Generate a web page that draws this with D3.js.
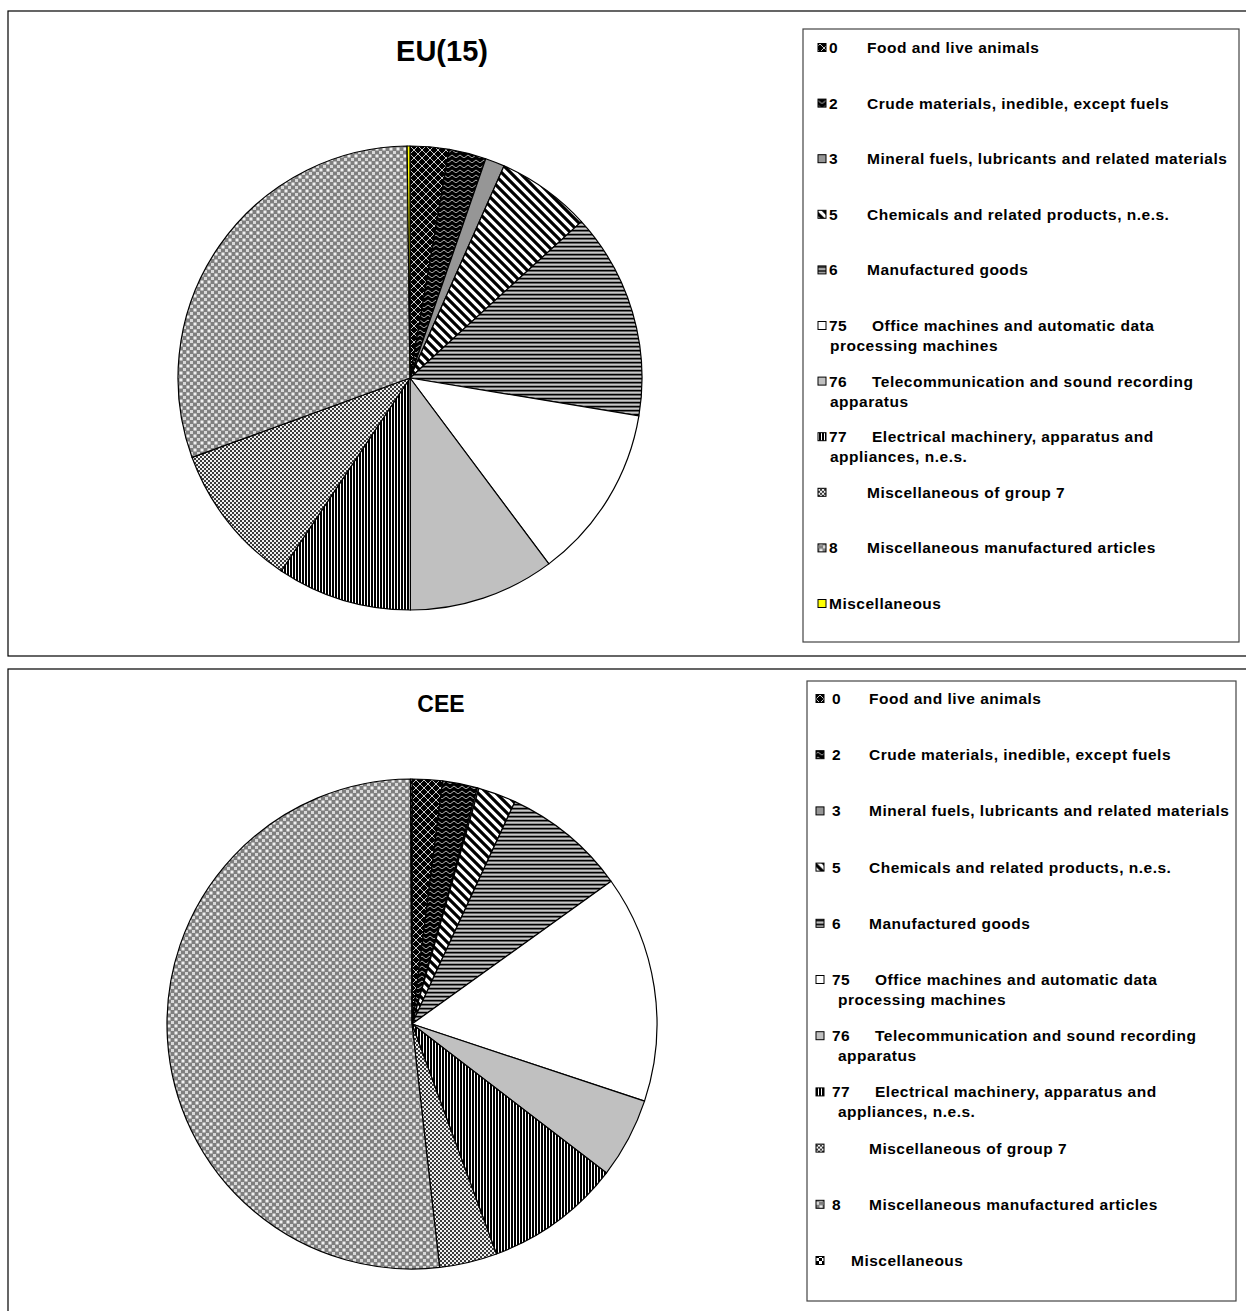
<!DOCTYPE html>
<html>
<head>
<meta charset="utf-8">
<script src="https://cdn.jsdelivr.net/npm/d3@7"></script>
<style>
  body { margin: 0; background: #fff; }
  svg text { font-family: "Liberation Sans", Arial, sans-serif; font-weight: bold; fill: #000; }
  .lg { font-size: 15.5px; letter-spacing: 0.5px; }
</style>
</head>
<body>
<div id="canvas"></div>
<script>
// categories (SITC groups)
var codes = ['0', '2', '3', '5', '6', '75', '76', '77', '', '8', ''];
var labels = [
  ['Food and live animals'],
  ['Crude materials, inedible, except fuels'],
  ['Mineral fuels, lubricants and related materials'],
  ['Chemicals and related products, n.e.s.'],
  ['Manufactured goods'],
  ['Office machines and automatic data', 'processing machines'],
  ['Telecommunication and sound recording', 'apparatus'],
  ['Electrical machinery, apparatus and', 'appliances, n.e.s.'],
  ['Miscellaneous of group 7'],
  ['Miscellaneous manufactured articles'],
  ['Miscellaneous']
];
// shares in %
var eu15Values = [2.7, 2.6, 1.35, 6.6, 14.4, 12.2, 10.2, 9.4, 10.1, 30.4, 0.2];
var ceeValues  = [2.0, 2.3, 0.1, 2.5, 8.2, 15.0, 5.3, 9.0, 3.8, 51.7, 0.1];

var W = 1246, H = 1311;
var svg = d3.select('#canvas').append('svg')
    .attr('width', W)
    .attr('height', H);

var defs = svg.append('defs');

// fill patterns (black & white hatch like the original)
function pat(id, w, h, bg, draw){
  var p = defs.append('pattern')
      .attr('id', id)
      .attr('patternUnits', 'userSpaceOnUse')
      .attr('width', w).attr('height', h);
  p.append('rect').attr('width', w).attr('height', h).attr('fill', bg);
  draw(p);
}
pat('p-food', 8, 8, '#000', function(p){
  p.append('path').attr('d', 'M0,0L8,8M8,0L0,8').attr('stroke', '#c8c8c8').attr('stroke-width', 1).attr('fill', 'none');
});
pat('p-crude', 8, 5, '#000', function(p){
  p.append('path').attr('d', 'M0,3.5Q2,0.5 4,3.5T8,3.5').attr('stroke', '#b0b0b0').attr('stroke-width', 1).attr('fill', 'none');
});
pat('p-chem', 9, 9, '#fff', function(p){
  p.append('path').attr('d', 'M-1,-1L10,10M-5,4L5,14M4,-5L14,5').attr('stroke', '#000').attr('stroke-width', 3.2);
});
pat('p-manuf', 4, 4, '#8c8c8c', function(p){
  p.append('rect').attr('y', 0).attr('width', 4).attr('height', 1.3).attr('fill', '#000');
  p.append('rect').attr('y', 2.3).attr('width', 4).attr('height', 0.8).attr('fill', '#e0e0e0');
});
pat('p-elec', 3, 3, '#fff', function(p){
  p.append('rect').attr('width', 2).attr('height', 3).attr('fill', '#000');
});
pat('p-misc7', 4, 4, '#f0f0f0', function(p){
  p.append('rect').attr('width', 2).attr('height', 2).attr('fill', '#3a3a3a');
  p.append('rect').attr('x', 2).attr('y', 2).attr('width', 2).attr('height', 2).attr('fill', '#3a3a3a');
});
pat('p-misc8', 7, 7, '#7f7f7f', function(p){
  p.append('rect').attr('x', 0.5).attr('y', 0.5).attr('width', 3).attr('height', 3).attr('fill', '#f0f0f0');
  p.append('rect').attr('x', 4).attr('y', 4).attr('width', 3).attr('height', 3).attr('fill', '#d8d8d8');
});
pat('p-misc', 6, 6, '#fff', function(p){
  p.append('rect').attr('width', 3).attr('height', 3).attr('fill', '#000');
  p.append('rect').attr('x', 3).attr('y', 3).attr('width', 3).attr('height', 3).attr('fill', '#000');
});

var baseFills = ['url(#p-food)', 'url(#p-crude)', '#969696', 'url(#p-chem)', 'url(#p-manuf)',
  '#ffffff', '#c0c0c0', 'url(#p-elec)', 'url(#p-misc7)', 'url(#p-misc8)'];

var panels = [
  {
    title: 'EU(15)', values: eu15Values, lastFill: '#ffff00',
    box: [8, 11, 1260, 656], titleX: 442, titleY: 61, titleSize: 29,
    cx: 410, cy: 378, r: 232,
    legend: {x: 803, y: 29, w: 436, h: 613, y0: 48, step: 55.6,
      icon: 818, code: 829, label: 867, label2: 872, wrap: 830, miscX: 829}
  },
  {
    title: 'CEE', values: ceeValues, lastFill: 'url(#p-misc)',
    box: [8, 669, 1260, 1330], titleX: 441, titleY: 712, titleSize: 23,
    cx: 412, cy: 1024, r: 245,
    legend: {x: 807, y: 681, w: 429, h: 620, y0: 699, step: 56.2,
      icon: 816, code: 832, label: 869, label2: 875, wrap: 838, miscX: 851}
  }
];

panels.forEach(drawPanel);

function drawPanel(cfg){
  var fills = baseFills.concat([cfg.lastFill]);
  var g = svg.append('g');

  // outer frame
  g.append('rect')
    .attr('x', cfg.box[0]).attr('y', cfg.box[1])
    .attr('width', cfg.box[2] - cfg.box[0]).attr('height', cfg.box[3] - cfg.box[1])
    .attr('fill', 'none').attr('stroke', '#000').attr('stroke-width', 1.2);

  g.append('text')
    .attr('x', cfg.titleX).attr('y', cfg.titleY)
    .attr('text-anchor', 'middle')
    .style('font-size', cfg.titleSize + 'px')
    .text(cfg.title);

  // pie
  var pie = d3.pie().sort(null).value(function(d){ return d; });
  var arc = d3.arc().innerRadius(0).outerRadius(cfg.r);
  var pieG = g.append('g').attr('transform', 'translate(' + cfg.cx + ',' + cfg.cy + ')');
  pieG.selectAll('path')
    .data(pie(cfg.values))
    .enter()
    .append('path')
    .attr('d', arc)
    .attr('fill', function(d, i){ return fills[i]; })
    .attr('stroke', '#000')
    .attr('stroke-width', 1.2)
    .attr('stroke-linejoin', 'round');

  // legend
  var L = cfg.legend;
  g.append('rect')
    .attr('x', L.x).attr('y', L.y).attr('width', L.w).attr('height', L.h)
    .attr('fill', '#fff').attr('stroke', '#444').attr('stroke-width', 1.2);

  var item = g.selectAll('.item')
    .data(labels)
    .enter()
    .append('g')
    .attr('class', 'item')
    .attr('transform', function(d, i){ return 'translate(0,' + (L.y0 + i * L.step) + ')'; });

  item.append('rect')
    .attr('x', L.icon).attr('y', -4.5)
    .attr('width', 8).attr('height', 8)
    .attr('fill', function(d, i){ return fills[i]; })
    .attr('stroke', '#000').attr('stroke-width', 1);

  item.append('text')
    .attr('class', 'lg')
    .attr('x', L.code).attr('y', 5)
    .text(function(d, i){ return codes[i]; });

  item.append('text')
    .attr('class', 'lg')
    .attr('x', function(d, i){
      if (i === labels.length - 1) return L.miscX;
      return codes[i].length > 1 ? L.label2 : L.label;
    })
    .attr('y', 5)
    .text(function(d){ return d[0]; });

  item.filter(function(d){ return d.length > 1; })
    .append('text')
    .attr('class', 'lg')
    .attr('x', L.wrap).attr('y', 25)
    .text(function(d){ return d[1]; });
}
</script>
</body>
</html>
